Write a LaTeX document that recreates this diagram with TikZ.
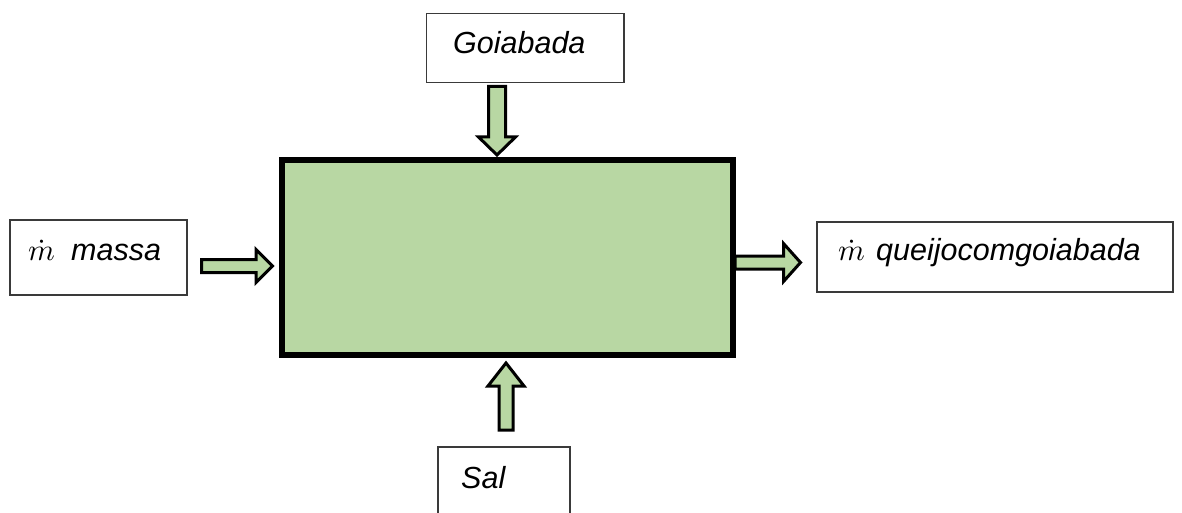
\documentclass[tikz,border=0pt]{standalone}
\usepackage{fontspec}
\setmainfont{Liberation Sans}
\definecolor{boxgreen}{HTML}{B8D7A3}
\definecolor{edgegray}{HTML}{3A3A3A}
\tikzset{
  labelbox/.style={draw=edgegray, line width=1.3pt, fill=white},
  labeltext/.style={anchor=base west, inner sep=0pt, font=\fontsize{30.5}{36}\selectfont\itshape},
  mdot/.style={anchor=base west, inner sep=0pt},
  blockarrow/.style={draw=black, line width=3pt, fill=boxgreen, line join=miter},
}
\begin{document}
\begin{tikzpicture}[x=1pt,y=-1pt]
\useasboundingbox (0,0) rectangle (1182,513);
% label boxes
\draw[labelbox] (426.7,13.3) rectangle (624,82.7);
\node[labeltext] (goiabada) at (453,54) {Goiabada};
\draw[labelbox] (10,220) rectangle (187,295);
\node[mdot] (mdot1) at (28,260) {\scalebox{3.05}{$\dot{m}$}};
\node[labeltext] (massa) at (71,260) {massa};
\draw[labelbox] (817,222) rectangle (1173,292);
\node[mdot] (mdot2) at (838,260) {\scalebox{3.05}{$\dot{m}$}};
\node[labeltext] (saida) at (876,260) {queijocomgoiabada};
\draw[labelbox] (438,447) rectangle (570,530);
\node[labeltext] (sal) at (461,488) {Sal};
% arrows
\draw[blockarrow] (201.5,259.5) -- (256,259.5) -- (256,249.5) -- (272.5,266) -- (256,282.5) -- (256,272.5) -- (201.5,272.5) -- cycle;
\draw[blockarrow] (735,256) -- (783.5,256) -- (783.5,243.5) -- (800.5,262.5) -- (783.5,281.5) -- (783.5,269) -- (735,269) -- cycle;
\draw[blockarrow] (488.5,86.5) -- (505.5,86.5) -- (505.5,137) -- (515.5,137) -- (497,155) -- (478.5,137) -- (488.5,137) -- cycle;
\draw[blockarrow] (499,430) -- (513,430) -- (513,386) -- (524,386) -- (506,363) -- (488,386) -- (499,386) -- cycle;
% main process box
\node[draw=black, line width=6pt, fill=boxgreen, minimum width=451pt, minimum height=195pt, inner sep=0pt, outer sep=0pt] (main) at (507,257.5) {};
\end{tikzpicture}
\end{document}
